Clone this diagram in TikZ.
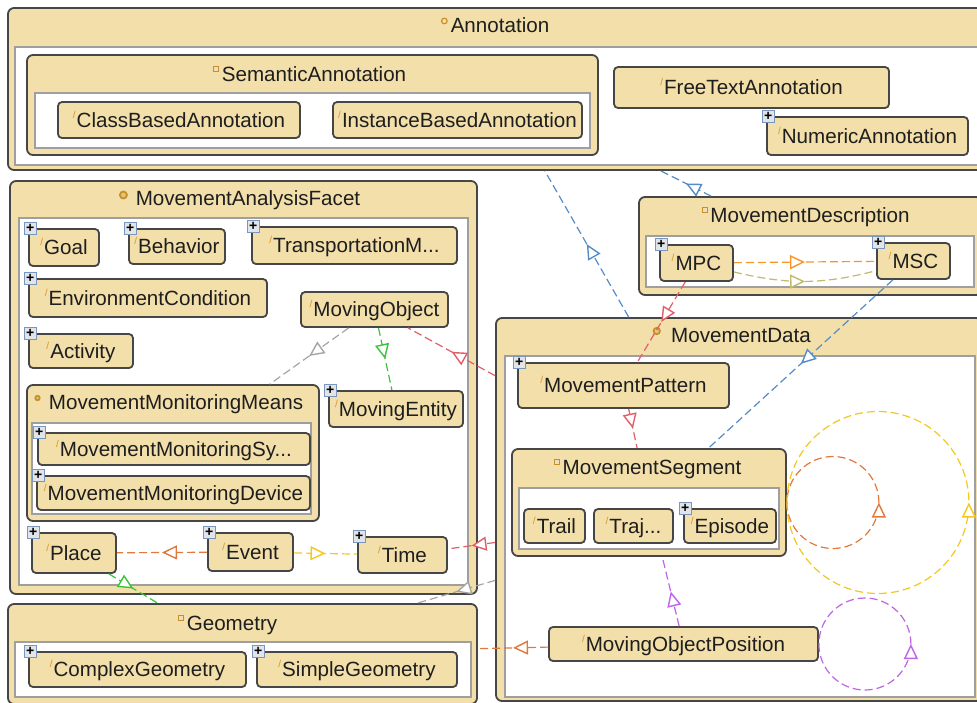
\documentclass[tikz,border=0pt]{standalone}
\usepackage{fontspec}
\setmainfont{Liberation Sans}
\usepackage{tikz}
\usetikzlibrary{arrows.meta, decorations.markings, fit}

\definecolor{boxfill}{RGB}{243,223,170}
\definecolor{boxline}{RGB}{70,70,70}
\definecolor{txt}{RGB}{30,30,30}
\definecolor{plusfill}{RGB}{225,228,232}
\definecolor{plusline}{RGB}{120,150,190}
\definecolor{tickc}{RGB}{215,150,40}
\definecolor{iconc}{RGB}{200,145,40}
\definecolor{edgeblue}{RGB}{85,140,200}
\definecolor{edgered}{RGB}{225,95,105}
\definecolor{edgeorange}{RGB}{250,150,40}
\definecolor{edgebrown}{RGB}{225,120,60}
\definecolor{edgeolive}{RGB}{195,185,110}
\definecolor{edgeyellow}{RGB}{245,200,30}
\definecolor{edgepurple}{RGB}{190,100,230}
\definecolor{edgegreen}{RGB}{60,195,60}
\definecolor{edgegray}{RGB}{165,165,165}

\newcommand{\tk}{{\color{tickc}\raisebox{.45em}{\fontsize{5}{5}\selectfont /}}\hspace{.5pt}}

\tikzset{
    boxbase/.style={draw=boxline, fill=boxfill, rounded corners=2pt, line width=0.9pt, inner sep=0pt},
    ttl/.style={inner sep=0pt, font=\fontsize{10.3}{12}\selectfont, text=txt,
        text height=7.4pt, text depth=0pt},
    leaf/.style 2 args={boxbase, fit={#1}, label={[ttl]center:\tk #2}},
    group/.style={boxbase, rounded corners=3pt, fit={#1}},
    panel/.style={draw=gray!75, fill=white, line width=0.6pt, inner sep=0pt, fit={#1}},
    plus/.style={draw=plusline, fill=plusfill, line width=0.6pt, minimum size=6pt, inner sep=0pt,
        font=\fontsize{7}{7}\selectfont\bfseries, text=black},
    ring/.style={draw=iconc, line width=0.6pt},
    dot/.style={draw=iconc, fill=iconc!55, line width=0.9pt},
    sqicon/.style={draw=iconc, fill=iconc!30, line width=0.5pt},
    edge/.style={draw=#1, line width=0.6pt, dash pattern=on 4pt off 2pt,
        decoration={markings, mark=at position 0.5 with {\arrow[line width=0.7pt]{Triangle[open, fill=white, length=7.5pt, width=7pt]}}},
        postaction={decorate}},
}

\begin{document}
\begin{tikzpicture}[x=0.5pt, y=-0.5pt]
    \useasboundingbox (0,0) rectangle (977,702);
    \fill[white] (0,0) rectangle (977,702);
    \clip (0,0) rectangle (977,702);

    \node[group={(8,8) (988,170)}]                          (annot)    {};
    \node[panel={(15,47) (982,165)}]                        (annot-p)  {};
    \node[ttl]                                              (annot-t)  at (500,25)  {Annotation};
    \draw[ring] ([shift={(-6,-4)}]annot-t.west) circle (2.8);

    \node[group={(27,55) (598,155)}]                        (sem)      {};
    \node[panel={(35,93) (590,148)}]                        (sem-p)    {};
    \node[ttl]                                              (sem-t)    at (314,74)  {SemanticAnnotation};
    \draw[sqicon] ([shift={(-8,-8)}]sem-t.west) rectangle ++(5,5);
    \node[leaf={(58,102) (300,138)}{ClassBasedAnnotation}]    (cba)      {};
    \node[leaf={(333,102) (582,138)}{InstanceBasedAnnotation}] (iba)     {};
    \node[leaf={(614,67) (889,108)}{FreeTextAnnotation}]      (fta)      {};
    \node[leaf={(767,117) (968,155)}{NumericAnnotation}]      (numa)     {};

    \node[group={(10,181) (477,594)}]                       (maf)      {};
    \node[panel={(19,218) (468,585)}]                       (maf-p)    {};
    \node[ttl]                                              (maf-t)    at (248,198) {MovementAnalysisFacet};
    \draw[dot] ([shift={(-12,-3)}]maf-t.west) circle (3.5);
    \node[leaf={(29,229) (99,266)}{Goal}]                   (goal)     {};
    \node[leaf={(129,229) (225,264)}{Behavior}]             (behav)    {};
    \node[leaf={(252,227) (457,264)}{TransportationM...}]   (transp)   {};
    \node[leaf={(29,279) (267,317)}{EnvironmentCondition}]  (envc)     {};
    \node[leaf={(301,292) (448,327)}{MovingObject}]         (mobj)     {};
    \node[leaf={(29,334) (133,368)}{Activity}]              (activ)    {};
    \node[group={(27,385) (319,521)}]                       (mmm)      {};
    \node[panel={(32,423) (311,514)}]                       (mmm-p)    {};
    \node[ttl]                                              (mmm-t)    at (176,402) {MovementMonitoringMeans};
    \draw[dot] ([shift={(-11,-4)}]mmm-t.west) circle (2.2);
    \node[leaf={(38,433) (310,465)}{MovementMonitoringSy...}]  (mmsys)  {};
    \node[leaf={(37,476) (310,510)}{MovementMonitoringDevice}] (mmdev)  {};
    \node[leaf={(329,391) (463,427)}{MovingEntity}]         (ment)     {};
    \node[leaf={(32,533) (116,573)}{Place}]                 (place)    {};
    \node[leaf={(208,533) (293,571)}{Event}]                (event)    {};
    \node[leaf={(358,537) (447,573)}{Time}]                 (time)     {};

    \node[group={(8,604) (477,704)}]                        (geom)     {};
    \node[panel={(15,642) (471,697)}]                       (geom-p)   {};
    \node[ttl]                                              (geom-t)   at (232,623) {Geometry};
    \draw[sqicon] ([shift={(-8,-8)}]geom-t.west) rectangle ++(5,5);
    \node[leaf={(29,652) (246,687)}{ComplexGeometry}]       (cgeom)    {};
    \node[leaf={(257,652) (457,687)}{SimpleGeometry}]       (sgeom)    {};

    \node[group={(639,197) (982,295)}]                      (mdesc)    {};
    \node[panel={(646,236) (974,287)}]                      (mdesc-p)  {};
    \node[ttl]                                              (mdesc-t)  at (810,215) {MovementDescription};
    \draw[sqicon] ([shift={(-8,-8)}]mdesc-t.west) rectangle ++(5,5);
    \node[leaf={(660,245) (733,281)}{MPC}]                  (mpc)      {};
    \node[leaf={(877,243) (950,279)}{MSC}]                  (msc)      {};

    \node[group={(496,318) (982,701)}]                      (mdata)    {};
    \node[panel={(505,356) (975,697)}]                      (mdata-p)  {};
    \node[ttl]                                              (mdata-t)  at (741,335) {MovementData};
    \draw[dot] ([shift={(-14,-4)}]mdata-t.west) circle (3.2);
    \node[leaf={(518,363) (729,408)}{MovementPattern}]      (mpat)     {};
    \node[group={(512,449) (786,556)}]                      (mseg)     {};
    \node[panel={(519,488) (779,549)}]                      (mseg-p)   {};
    \node[ttl]                                              (mseg-t)   at (652,467) {MovementSegment};
    \draw[sqicon] ([shift={(-8,-8)}]mseg-t.west) rectangle ++(5,5);
    \node[leaf={(524,509) (585,543)}{Trail}]                (trail)    {};
    \node[leaf={(594,509) (673,543)}{Traj...}]              (traj)     {};
    \node[leaf={(684,509) (776,543)}{Episode}]              (episode)  {};
    \node[leaf={(549,627) (818,661)}{MovingObjectPosition}] (mop)      {};

    \foreach \n in {numa, goal, behav, transp, envc, activ, mmsys, mmdev, ment, place, event, time,
                    cgeom, sgeom, mpc, msc, mpat, episode}
        \node[plus] (\n-x) at ([xshift=1pt]\n.north west) {+};

    \path   (mdata) edge[edge=edgeblue]   (annot)
            (mdesc) edge[edge=edgeblue]   (annot)
            (mpc)   edge[edge=edgeorange] (msc)
            (mpc)   edge[edge=edgeolive, bend right=14] (msc)
            (mpc)   edge[edge=edgered]    (mpat)
            (mpat)  edge[edge=edgered]    (mseg)
            (msc)   edge[edge=edgeblue]   (mseg)
            (mop)   edge[edge=edgepurple] (mseg)
            (mop)   edge[edge=edgebrown]  (geom)
            (place) edge[edge=edgegreen]  (geom)
            (mdata) edge[edge=edgegray]   (geom)
            (mdata) edge[edge=edgered]    (time)
            (mdata) edge[edge=edgered]    (mobj)
            (mobj)  edge[edge=edgegray]   (mmm)
            (mobj)  edge[edge=edgegreen]  (ment)
            (event) edge[edge=edgebrown]  (place)
            (event) edge[edge=edgeyellow] (time);

    \draw[edge=edgebrown]  (mseg.east) arc[start angle=180, end angle=-180, radius=46];
    \draw[edge=edgeyellow] (mseg.east) arc[start angle=180, end angle=-180, radius=91];
    \draw[edge=edgepurple] (mop.east)  arc[start angle=180, end angle=-180, radius=46];
\end{tikzpicture}
\end{document}
